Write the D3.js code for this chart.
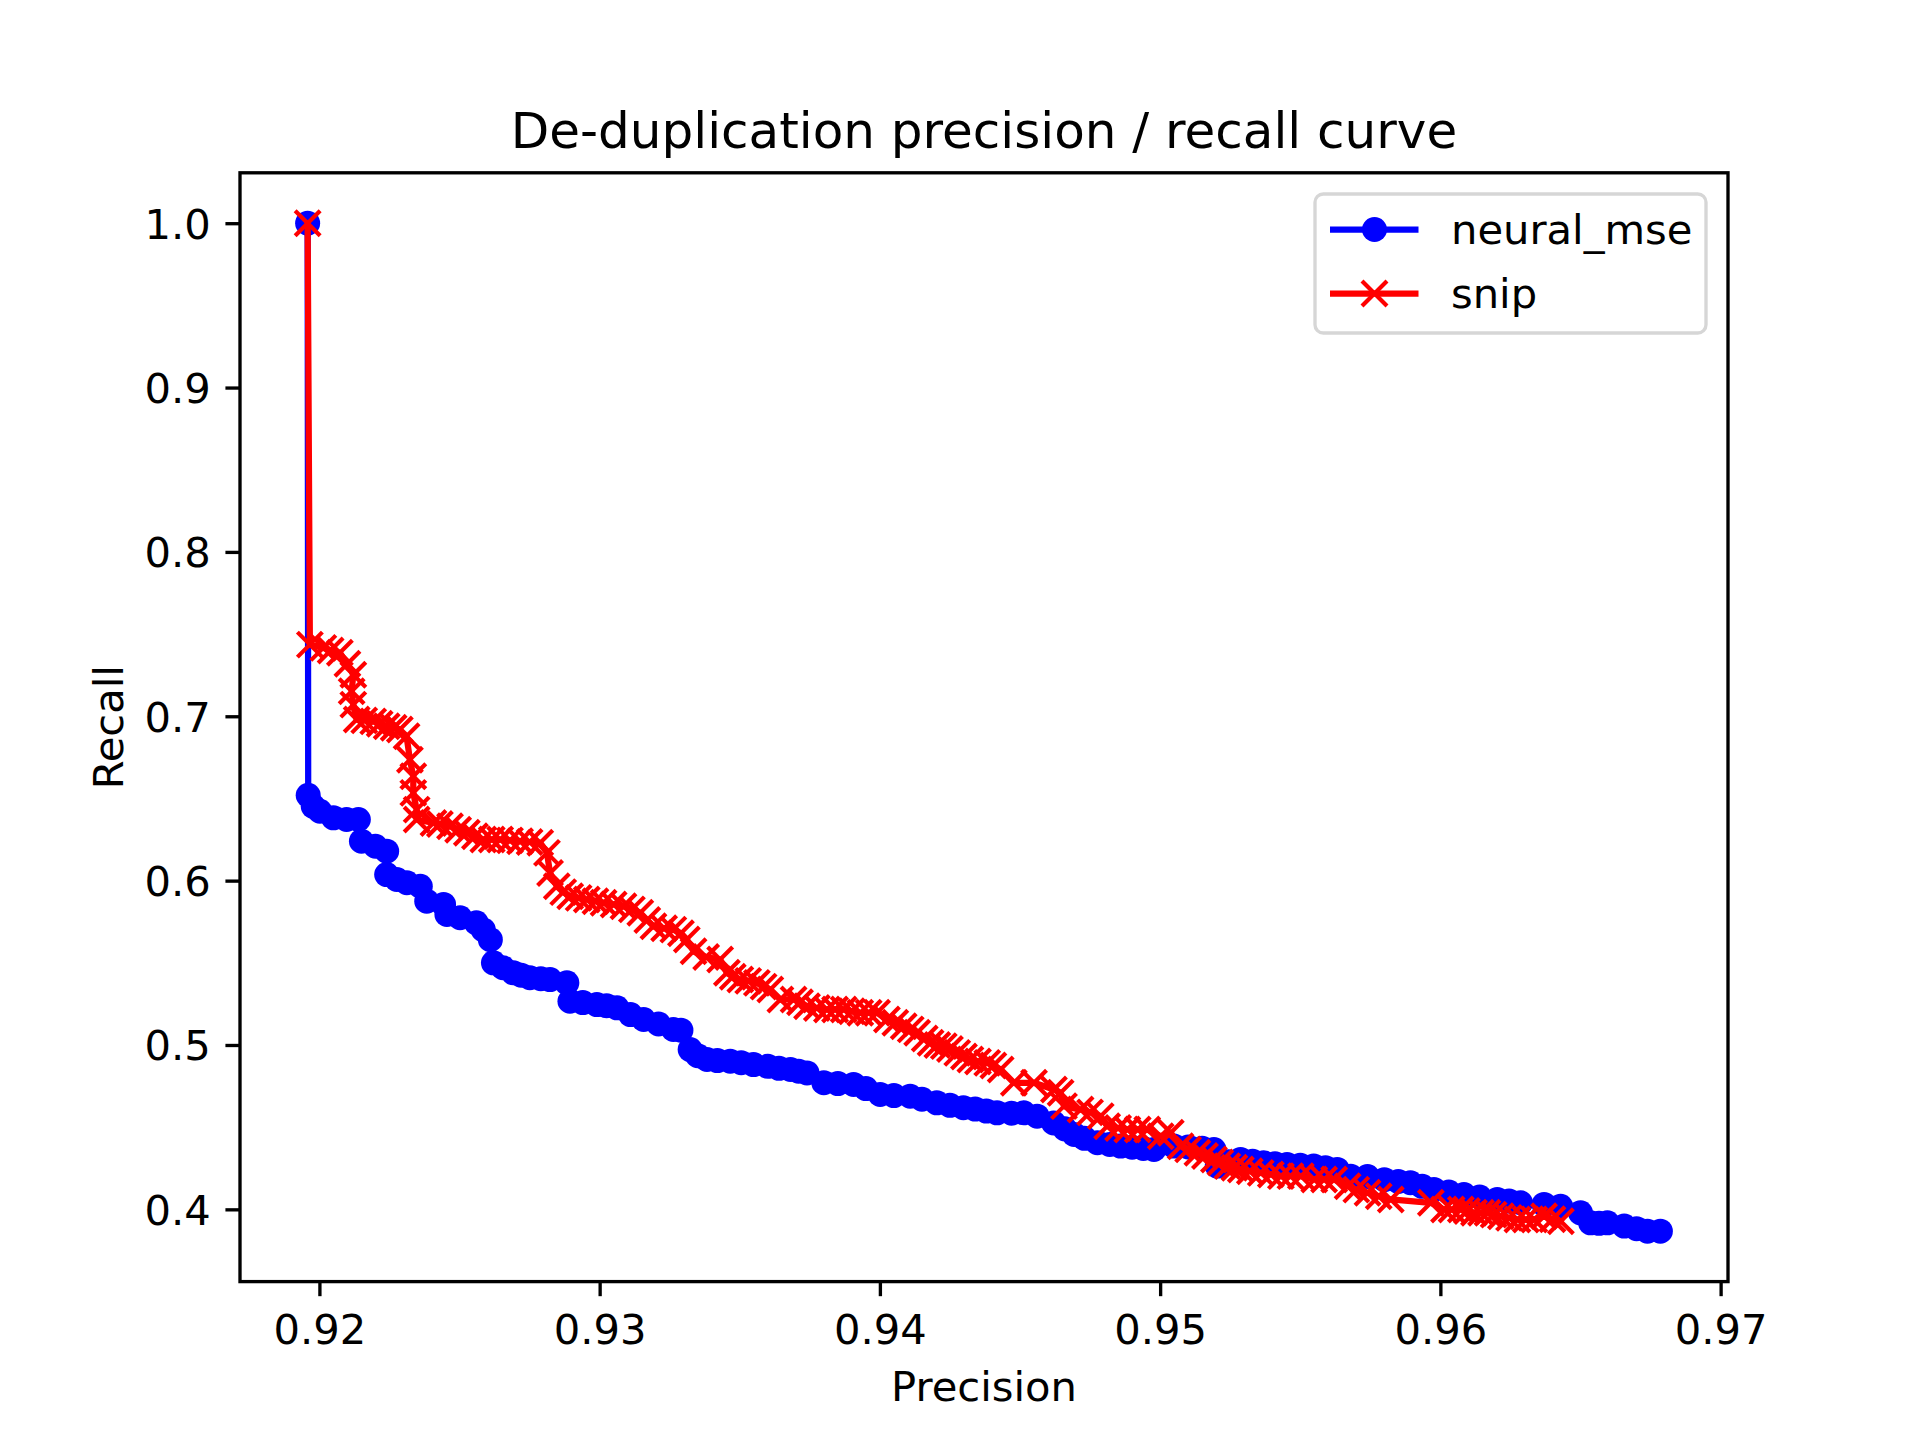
<!DOCTYPE html>
<meta charset="utf-8">
<style>
    body {
        margin: 0;
        background-color: #fff;
    }

    svg {
        font-family: "DejaVu Sans", sans-serif;
    }

    .tick text {
        font-size: 41.67px;
        fill: #000;
    }
</style>

<body>
    <script src="https://cdn.jsdelivr.net/npm/d3@7"></script>
    <script>
        // values: [precision, recall]
        var titleText = "De-duplication precision / recall curve";
        var seriesNames = ["neural_mse", "snip"];

        var neuralPoints = [
            [0.91958, 1.0000], [0.91960, 0.6519], [0.91978, 0.6452], [0.92002, 0.6422], [0.92050, 0.6382],
            [0.92097, 0.6372], [0.92139, 0.6372], [0.92150, 0.6240], [0.92200, 0.6209], [0.92240, 0.6179],
            [0.92240, 0.6037], [0.92276, 0.6007], [0.92312, 0.5987], [0.92360, 0.5966], [0.92383, 0.5875],
            [0.92443, 0.5855], [0.92455, 0.5794], [0.92502, 0.5774], [0.92560, 0.5743], [0.92585, 0.5700],
            [0.92610, 0.5641], [0.92621, 0.5500], [0.92655, 0.5470], [0.92692, 0.5439], [0.92720, 0.5425],
            [0.92751, 0.5409], [0.92790, 0.5403], [0.92823, 0.5398], [0.92883, 0.5378], [0.92894, 0.5266],
            [0.92940, 0.5258], [0.92990, 0.5246], [0.93025, 0.5238], [0.93062, 0.5226], [0.93110, 0.5185],
            [0.93157, 0.5155], [0.93210, 0.5128], [0.93263, 0.5094], [0.93290, 0.5090], [0.93323, 0.4972],
            [0.93350, 0.4935], [0.93383, 0.4912], [0.93420, 0.4905], [0.93466, 0.4901], [0.93505, 0.4892],
            [0.93549, 0.4881], [0.93600, 0.4870], [0.93640, 0.4858], [0.93681, 0.4851], [0.93710, 0.4840],
            [0.93740, 0.4830], [0.93800, 0.4770], [0.93850, 0.4765], [0.93906, 0.4760], [0.93950, 0.4735],
            [0.94001, 0.4699], [0.94050, 0.4692], [0.94108, 0.4688], [0.94150, 0.4670], [0.94203, 0.4648],
            [0.94250, 0.4633], [0.94298, 0.4618], [0.94340, 0.4610], [0.94380, 0.4598], [0.94418, 0.4587],
            [0.94470, 0.4585], [0.94513, 0.4587], [0.94561, 0.4567], [0.94620, 0.4526], [0.94660, 0.4490],
            [0.94693, 0.4456], [0.94730, 0.4432], [0.94776, 0.4405], [0.94820, 0.4395], [0.94859, 0.4385],
            [0.94900, 0.4378], [0.94940, 0.4370], [0.94978, 0.4364], [0.95049, 0.4385], [0.95100, 0.4380],
            [0.95150, 0.4372], [0.95192, 0.4364], [0.95204, 0.4263], [0.95245, 0.4290], [0.95287, 0.4303],
            [0.95330, 0.4292], [0.95370, 0.4283], [0.95410, 0.4278], [0.95453, 0.4273], [0.95500, 0.4268],
            [0.95548, 0.4263], [0.95590, 0.4253], [0.95632, 0.4243], [0.95680, 0.4202], [0.95740, 0.4200],
            [0.95800, 0.4180], [0.95850, 0.4170], [0.95893, 0.4162], [0.95935, 0.4140], [0.95977, 0.4121],
            [0.96030, 0.4105], [0.96084, 0.4090], [0.96140, 0.4075], [0.96203, 0.4060], [0.96245, 0.4050],
            [0.96286, 0.4040], [0.96370, 0.4030], [0.96429, 0.4019], [0.96500, 0.3979], [0.96536, 0.3918],
            [0.96566, 0.3915], [0.96596, 0.3918], [0.96656, 0.3898], [0.96700, 0.3882], [0.96739, 0.3867],
            [0.96785, 0.3867]
        ];

        var snipPoints = [
            [0.91958, 1.0000], [0.91966, 0.7436], [0.92014, 0.7416], [0.92040, 0.7400], [0.92073, 0.7386],
            [0.92100, 0.7320], [0.92121, 0.7253], [0.92115, 0.7152], [0.92121, 0.7071], [0.92133, 0.6980],
            [0.92160, 0.6975], [0.92192, 0.6969], [0.92215, 0.6955], [0.92240, 0.6939], [0.92265, 0.6930],
            [0.92287, 0.6919], [0.92311, 0.6878], [0.92323, 0.6736], [0.92335, 0.6635], [0.92335, 0.6534],
            [0.92347, 0.6432], [0.92347, 0.6372], [0.92407, 0.6351], [0.92430, 0.6345], [0.92466, 0.6331],
            [0.92495, 0.6310], [0.92526, 0.6291], [0.92555, 0.6270], [0.92585, 0.6250], [0.92615, 0.6250],
            [0.92645, 0.6250], [0.92680, 0.6245], [0.92716, 0.6240], [0.92750, 0.6235], [0.92788, 0.6230],
            [0.92812, 0.6169], [0.92823, 0.6047], [0.92847, 0.5966], [0.92870, 0.5930], [0.92895, 0.5905],
            [0.92925, 0.5895], [0.92954, 0.5885], [0.92985, 0.5875], [0.93014, 0.5865], [0.93050, 0.5855],
            [0.93085, 0.5844], [0.93115, 0.5825], [0.93145, 0.5804], [0.93170, 0.5760], [0.93192, 0.5722],
            [0.93230, 0.5710], [0.93263, 0.5702], [0.93290, 0.5680], [0.93311, 0.5642], [0.93335, 0.5570],
            [0.93380, 0.5535], [0.93430, 0.5520], [0.93454, 0.5439], [0.93475, 0.5415], [0.93502, 0.5398],
            [0.93530, 0.5390], [0.93561, 0.5378], [0.93585, 0.5355], [0.93609, 0.5337], [0.93645, 0.5277],
            [0.93692, 0.5277], [0.93715, 0.5260], [0.93740, 0.5236], [0.93775, 0.5225], [0.93811, 0.5216],
            [0.93840, 0.5216], [0.93871, 0.5216], [0.93900, 0.5205], [0.93930, 0.5196], [0.93960, 0.5196],
            [0.93990, 0.5196], [0.94025, 0.5155], [0.94055, 0.5135], [0.94085, 0.5114], [0.94110, 0.5095],
            [0.94133, 0.5074], [0.94160, 0.5040], [0.94181, 0.5013], [0.94205, 0.5000], [0.94228, 0.4993],
            [0.94250, 0.4975], [0.94276, 0.4952], [0.94300, 0.4930], [0.94323, 0.4912], [0.94350, 0.4900],
            [0.94383, 0.4891], [0.94405, 0.4875], [0.94431, 0.4851], [0.94478, 0.4770], [0.94550, 0.4770],
            [0.94621, 0.4729], [0.94645, 0.4709], [0.94657, 0.4628], [0.94716, 0.4607], [0.94750, 0.4590],
            [0.94788, 0.4567], [0.94811, 0.4506], [0.94850, 0.4495], [0.94883, 0.4486], [0.94920, 0.4486],
            [0.94954, 0.4486], [0.95002, 0.4445], [0.95038, 0.4466], [0.95073, 0.4384], [0.95100, 0.4365],
            [0.95133, 0.4344], [0.95160, 0.4325], [0.95192, 0.4303], [0.95215, 0.4285], [0.95240, 0.4263],
            [0.95265, 0.4253], [0.95288, 0.4243], [0.95320, 0.4232], [0.95359, 0.4222], [0.95395, 0.4212],
            [0.95431, 0.4202], [0.95465, 0.4202], [0.95502, 0.4202], [0.95550, 0.4182], [0.95585, 0.4182],
            [0.95621, 0.4182], [0.95669, 0.4141], [0.95700, 0.4120], [0.95740, 0.4101], [0.95780, 0.4080],
            [0.95823, 0.4060], [0.95966, 0.4040], [0.96013, 0.3999], [0.96040, 0.3999], [0.96073, 0.3999],
            [0.96095, 0.3990], [0.96120, 0.3979], [0.96145, 0.3979], [0.96168, 0.3979], [0.96190, 0.3968],
            [0.96216, 0.3958], [0.96245, 0.3948], [0.96275, 0.3938], [0.96305, 0.3938], [0.96335, 0.3938],
            [0.96370, 0.3958], [0.96400, 0.3940], [0.96430, 0.3928]
        ];

        var xTicks = [0.92, 0.93, 0.94, 0.95, 0.96, 0.97];
        var yTicks = [0.4, 0.5, 0.6, 0.7, 0.8, 0.9, 1.0];

        // matplotlib-like figure: 6.4x4.8in at 300 dpi
        var W = 1920, H = 1440;
        var margin = {left: 240, right: 192, top: 172.8, bottom: 158.4};
        var width = W - margin.left - margin.right,
            height = H - margin.top - margin.bottom;
        var pt = 300 / 72;

        var neural = neuralPoints.map(d => ({x: d[0], y: d[1]}));
        var snip = snipPoints.map(d => ({x: d[0], y: d[1]}));
        var all = neural.concat(snip);

        // 5% padding like autoscale
        function padded(ext) {
            var d = (ext[1] - ext[0]) * 0.05;
            return [ext[0] - d, ext[1] + d];
        }

        var x = d3.scaleLinear()
            .domain(padded(d3.extent(all, d => d.x)))
            .range([0, width]);
        var y = d3.scaleLinear()
            .domain(padded(d3.extent(all, d => d.y)))
            .range([height, 0]);

        var svg = d3.select("body").append("svg")
            .attr("width", W)
            .attr("height", H);

        svg.append("rect").attr("width", W).attr("height", H).attr("fill", "#fff");

        var g = svg.append("g")
            .attr("transform", "translate(" + margin.left + "," + margin.top + ")");

        g.append("clipPath").attr("id", "clip")
            .append("rect").attr("width", width).attr("height", height);

        var plot = g.append("g").attr("clip-path", "url(#clip)");

        var line = d3.line().x(d => x(d.x)).y(d => y(d.y));

        // neural_mse: blue line with circle markers
        plot.append("path")
            .datum(neural)
            .attr("d", line)
            .attr("fill", "none")
            .attr("stroke", "#0000ff")
            .attr("stroke-width", 1.5 * pt)
            .attr("stroke-linejoin", "round")
            .attr("stroke-linecap", "square");

        plot.selectAll(".dot")
            .data(neural)
            .enter().append("circle")
            .attr("class", "dot")
            .attr("cx", d => x(d.x))
            .attr("cy", d => y(d.y))
            .attr("r", 3 * pt)
            .attr("fill", "#0000ff");

        // snip: red line with x markers
        plot.append("path")
            .datum(snip)
            .attr("d", line)
            .attr("fill", "none")
            .attr("stroke", "#ff0000")
            .attr("stroke-width", 1.5 * pt)
            .attr("stroke-linejoin", "round")
            .attr("stroke-linecap", "square");

        var xs = 3 * pt;
        function crossPath(cx, cy) {
            return "M" + (cx - xs) + "," + (cy - xs) + "L" + (cx + xs) + "," + (cy + xs) +
                "M" + (cx - xs) + "," + (cy + xs) + "L" + (cx + xs) + "," + (cy - xs);
        }

        plot.selectAll(".cross")
            .data(snip)
            .enter().append("path")
            .attr("class", "cross")
            .attr("d", d => crossPath(x(d.x), y(d.y)))
            .attr("stroke", "#ff0000")
            .attr("stroke-width", 1 * pt)
            .attr("fill", "none");

        // axes
        var xAxis = d3.axisBottom(x)
            .tickValues(xTicks)
            .tickFormat(d3.format(".2f"))
            .tickSize(3.5 * pt)
            .tickPadding(3.5 * pt + 2);
        var yAxis = d3.axisLeft(y)
            .tickValues(yTicks)
            .tickFormat(d3.format(".1f"))
            .tickSize(3.5 * pt)
            .tickPadding(3.5 * pt);

        var gx = g.append("g")
            .attr("transform", "translate(0," + height + ")")
            .call(xAxis);
        var gy = g.append("g").call(yAxis);

        [gx, gy].forEach(function(a) {
            a.attr("font-family", null).attr("font-size", null);
            a.select(".domain").remove();
            a.selectAll(".tick line").attr("stroke", "#000").attr("stroke-width", 0.8 * pt);
        });
        gx.selectAll(".tick text").attr("dy", "0.76em");
        gy.selectAll(".tick text").attr("dy", "0.36em");

        // spines
        g.append("rect")
            .attr("width", width)
            .attr("height", height)
            .attr("fill", "none")
            .attr("stroke", "#000")
            .attr("stroke-width", 0.8 * pt)
            .attr("stroke-linejoin", "miter");

        // texts
        svg.append("text")
            .attr("x", margin.left + width / 2)
            .attr("y", 148)
            .attr("text-anchor", "middle")
            .attr("font-size", 12 * pt)
            .text(titleText);

        svg.append("text")
            .attr("x", margin.left + width / 2)
            .attr("y", 1401)
            .attr("text-anchor", "middle")
            .attr("font-size", 10 * pt)
            .text("Precision");

        svg.append("text")
            .attr("transform", "translate(123," + (margin.top + height / 2) + ") rotate(-90)")
            .attr("text-anchor", "middle")
            .attr("font-size", 10 * pt)
            .text("Recall");

        // legend
        var legend = svg.append("g").attr("transform", "translate(1315,194)");
        legend.append("rect")
            .attr("width", 391)
            .attr("height", 139)
            .attr("rx", 8.3)
            .attr("fill", "#fff")
            .attr("fill-opacity", 0.8)
            .attr("stroke", "#cccccc")
            .attr("stroke-opacity", 0.8)
            .attr("stroke-width", 0.8 * pt);

        var rows = [
            {name: seriesNames[0], color: "#0000ff", marker: "circle", cy: 35.5},
            {name: seriesNames[1], color: "#ff0000", marker: "cross", cy: 99.5}
        ];
        rows.forEach(function(r) {
            legend.append("line")
                .attr("x1", 15).attr("x2", 103.5)
                .attr("y1", r.cy).attr("y2", r.cy)
                .attr("stroke", r.color)
                .attr("stroke-width", 1.5 * pt);
            if (r.marker == "circle") {
                legend.append("circle")
                    .attr("cx", 59.5).attr("cy", r.cy).attr("r", 3 * pt)
                    .attr("fill", r.color);
            } else {
                legend.append("path")
                    .attr("d", crossPath(59.5, r.cy))
                    .attr("stroke", r.color)
                    .attr("stroke-width", 1 * pt);
            }
            legend.append("text")
                .attr("x", 136)
                .attr("y", r.cy + 14.5)
                .attr("font-size", 10 * pt)
                .text(r.name);
        });
    </script>
</body>

</html>
